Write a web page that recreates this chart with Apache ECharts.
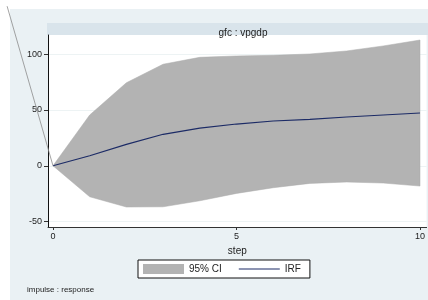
<!DOCTYPE html>
<html>
<head>
<meta charset="utf-8">
<script src="https://cdn.jsdelivr.net/npm/echarts@6/dist/echarts.min.js"></script>
<style>
  html, body { margin: 0; padding: 0; background: #fff; }
  #chart { width: 428px; height: 300px; }
</style>
</head>
<body>
<div id="chart"></div>
<script>
// IRF 数据 (impulse gfc -> response vpgdp)
const steps = [0, 1, 2, 3, 4, 5, 6, 7, 8, 9, 10]
const irf = [0, 9.0, 19.2, 28.2, 33.8, 37.4, 40.1, 41.6, 43.7, 45.5, 47.3]
const ciLower = [0, -27.8, -37.0, -36.8, -31.4, -24.8, -19.7, -15.8, -14.6, -15.5, -18.2]
const ciUpper = [0, 45.5, 74.4, 91.0, 97.2, 98.4, 99.0, 100.2, 102.9, 107.4, 112.7]
// 左上角那条多余的灰线
const strayLine = [[-1.25, 143], [0, 0]]
const xTicks = [0, 5, 10]
const yTicks = [-50, 0, 50, 100]

const font = "'Liberation Sans', Arial, sans-serif"
const chart = echarts.init(document.getElementById('chart'))

// 置信区间多边形：上界顺序 + 下界逆序
const ciRender = (params, api) => {
  if (params.dataIndex !== 0) return
  const pts = []
  steps.forEach((s, i) => pts.push(api.coord([s, ciUpper[i]])))
  for (let i = steps.length - 1; i >= 0; i--) pts.push(api.coord([steps[i], ciLower[i]]))
  return {
    type: 'polygon',
    shape: { points: pts },
    style: { fill: '#b3b3b3', stroke: '#aaaaaa', lineWidth: 0.5 }
  }
}

const strayRender = (params, api) => {
  if (params.dataIndex !== 0) return
  return {
    type: 'polyline',
    shape: { points: strayLine.map(p => api.coord(p)) },
    style: { stroke: '#8c8c8c', lineWidth: 0.8, fill: null }
  }
}

chart.setOption({
  backgroundColor: '#fff',
  animation: false,
  graphic: [
    // 外部浅色背景
    { type: 'rect', shape: { x: 10, y: 9, width: 418, height: 291 }, style: { fill: '#eaf1f4' }, z: -10 },
    // 子图标题条
    { type: 'rect', shape: { x: 47, y: 23, width: 381, height: 12 }, style: { fill: '#d9e4eb' }, z: -9 }
  ],
  title: [
    {
      text: 'gfc : vpgdp',
      left: 238,
      top: 23,
      textAlign: 'center',
      textStyle: { fontFamily: font, fontSize: 10, fontWeight: 'normal', color: '#222' }
    },
    {
      text: 'impulse : response',
      left: 22,
      top: 281,
      textStyle: { fontFamily: font, fontSize: 8, fontWeight: 'normal', color: '#222' }
    }
  ],
  legend: {
    left: 138,
    top: 260,
    padding: [4, 9, 4, 5],
    itemWidth: 41,
    itemHeight: 10,
    itemGap: 17,
    backgroundColor: '#fff',
    borderColor: '#111',
    borderWidth: 1,
    textStyle: { fontFamily: font, fontSize: 10, color: '#222' },
    data: [
      { name: '95% CI', icon: 'rect' },
      { name: 'IRF', icon: 'path://M0,0 L0.01,0 L0,0.01 Z M0,4.5 L41,4.5 L41,5.5 L0,5.5 Z M40.99,10 L41,10 L41,9.99 Z' }
    ]
  },
  grid: {
    left: 48,
    right: 0,
    top: 35,
    bottom: 73,
    show: true,
    backgroundColor: '#fff',
    borderWidth: 0
  },
  xAxis: {
    type: 'value',
    min: -0.136,
    max: 10.18,
    name: 'step',
    nameLocation: 'middle',
    nameGap: 17,
    nameTextStyle: { fontFamily: font, fontSize: 10, color: '#222' },
    axisLine: { show: true, onZero: false, lineStyle: { color: '#333', width: 1 } },
    axisTick: { show: true, length: 3, customValues: xTicks, lineStyle: { color: '#333' } },
    axisLabel: { customValues: xTicks, margin: 5, fontFamily: font, fontSize: 9, color: '#222' },
    splitLine: { show: false }
  },
  yAxis: {
    type: 'value',
    min: -54.9,
    max: 117.2,
    axisLine: { show: true, onZero: false, lineStyle: { color: '#111', width: 1 } },
    axisTick: { show: true, length: 4, customValues: yTicks, lineStyle: { color: '#333' } },
    axisLabel: { customValues: yTicks, margin: 6, fontFamily: font, fontSize: 9, color: '#222' },
    splitLine: { show: true, lineStyle: { color: '#edf3f4', width: 1 } }
  },
  series: [
    {
      name: '95% CI',
      type: 'custom',
      renderItem: ciRender,
      data: [[0, 0]],
      itemStyle: { color: '#b3b3b3' },
      clip: false,
      silent: true,
      z: 2
    },
    {
      name: 'IRF',
      type: 'line',
      data: steps.map((s, i) => [s, irf[i]]),
      symbol: 'none',
      itemStyle: { color: '#1c2b66' },
      lineStyle: { width: 1.2, color: '#1c2b66' },
      z: 3
    },
    {
      name: 'stray',
      type: 'custom',
      renderItem: strayRender,
      data: [[0, 0]],
      clip: false,
      silent: true,
      z: 4
    }
  ]
})
</script>
</body>
</html>
